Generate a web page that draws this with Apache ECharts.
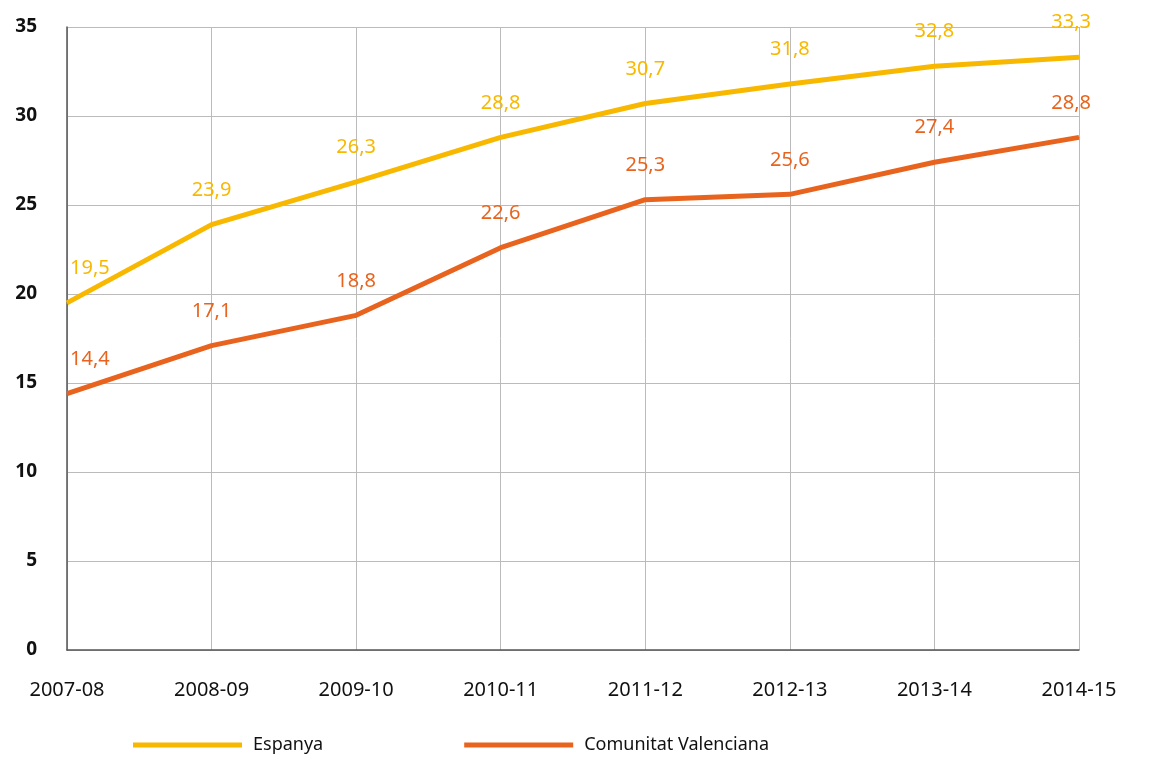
<!DOCTYPE html>
<html>
<head>
<meta charset="utf-8">
<script src="https://cdn.jsdelivr.net/npm/echarts@6/dist/echarts.min.js"></script>
<style>
  html, body { margin: 0; padding: 0; background: #fff; }
  #main { width: 1149px; height: 763px; }
</style>
</head>
<body>
<div id="main"></div>
<script>
var cursos = ['2007-08', '2008-09', '2009-10', '2010-11', '2011-12', '2012-13', '2013-14', '2014-15'];
var espanya = [19.5, 23.9, 26.3, 28.8, 30.7, 31.8, 32.8, 33.3];
var valenciana = [14.4, 17.1, 18.8, 22.6, 25.3, 25.6, 27.4, 28.8];
var yTicks = [0, 5, 10, 15, 20, 25, 30, 35];

var fontFam = '"Noto Sans", "Open Sans", sans-serif';

// first label sits right of the axis, last one nudged left
function withLabels(vals) {
    return vals.map(function (v, i) {
        var d = { value: v };
        if (i === 0) d.label = { show: true, align: 'left', offset: [3, 0] };
        if (i === vals.length - 1) d.label = { show: true, align: 'right', offset: [12, 0] };
        return d;
    });
}

function lineSeries(name, vals, color) {
    return {
        name: name,
        type: 'line',
        data: withLabels(vals),
        symbol: 'circle',
        symbolSize: 1,
        showSymbol: true,
        color: color,
        itemStyle: { color: color },
        lineStyle: { width: 5, color: color },
        label: {
            show: true,
            position: 'top',
            distance: 24,
            fontFamily: fontFam,
            fontSize: 20,
            color: color,
            formatter: function (p) { return String(p.value).replace('.', ','); }
        }
    };
}

var myChart = echarts.init(document.getElementById('main'));
var option = {
    animation: false,
    grid: { left: 67, right: 70, top: 27, bottom: 113, containLabel: false },
    legend: {
        bottom: 4,
        left: 128,
        icon: 'rect',
        itemWidth: 109,
        itemHeight: 5,
        itemGap: 141,
        textStyle: { fontFamily: fontFam, fontSize: 18, color: '#111', padding: [0, 0, 0, 6] },
        data: ['Espanya', 'Comunitat Valenciana']
    },
    xAxis: {
        type: 'category',
        boundaryGap: false,
        data: cursos,
        axisLine: { lineStyle: { color: '#555', width: 1.5 } },
        axisTick: { show: false },
        axisLabel: { fontFamily: fontFam, fontSize: 20, color: '#111', margin: 30 },
        splitLine: { show: true, lineStyle: { color: '#bbb', width: 1 } }
    },
    yAxis: {
        type: 'value',
        min: yTicks[0],
        max: yTicks[yTicks.length - 1],
        interval: 5,
        axisLine: { show: true, lineStyle: { color: '#555', width: 1.5 } },
        axisTick: { show: false },
        axisLabel: { fontFamily: fontFam, fontSize: 19, fontWeight: 'bold', color: '#111', margin: 30 },
        splitLine: { lineStyle: { color: '#bbb', width: 1 } }
    },
    series: [
        lineSeries('Espanya', espanya, '#F9B800'),
        lineSeries('Comunitat Valenciana', valenciana, '#E8641E')
    ]
};
myChart.setOption(option);
</script>
</body>
</html>
